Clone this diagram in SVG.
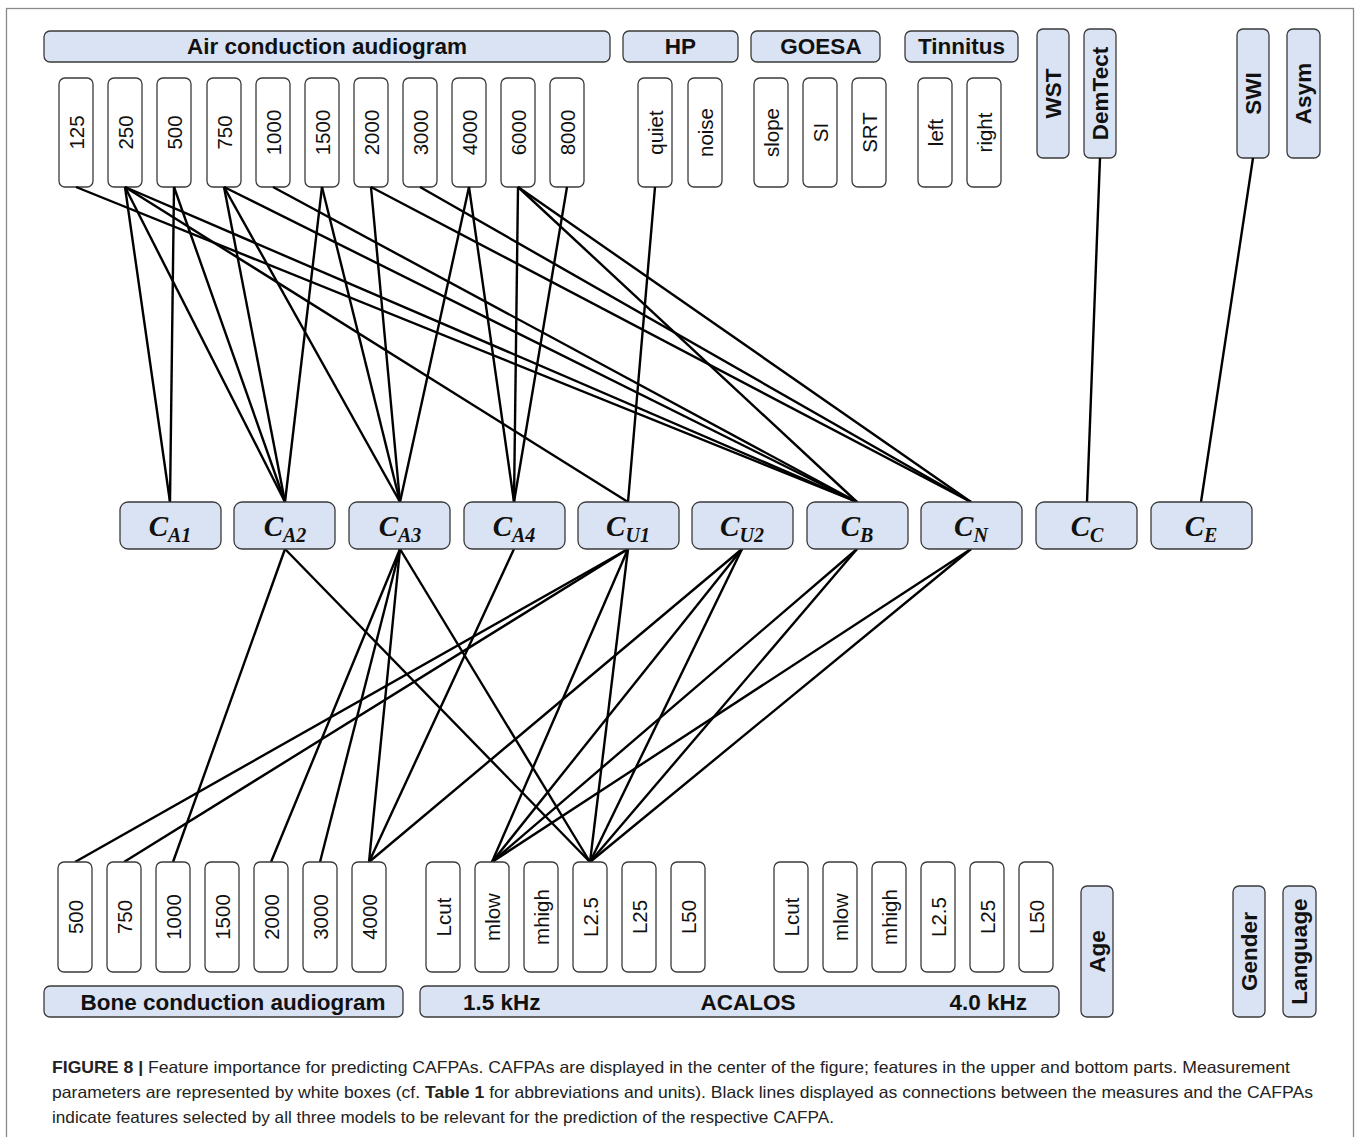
<svg xmlns="http://www.w3.org/2000/svg" width="1360" height="1137" viewBox="0 0 1360 1137">
<style>
.frame{fill:none;stroke:#8a8a8a;stroke-width:1.3}
.hdr{fill:#dae3f3;stroke:#3a3a3a;stroke-width:1.3}
.box{fill:#fff;stroke:#3a3a3a;stroke-width:1.3}
.ht{font-family:"Liberation Sans",Arial,sans-serif;font-weight:bold;font-size:22.5px;fill:#111}
.vt{font-family:"Liberation Sans",Arial,sans-serif;font-weight:bold;font-size:22.5px;fill:#111;text-anchor:middle;dominant-baseline:central}
.bt{font-family:"Liberation Sans",Arial,sans-serif;font-size:20.5px;fill:#111;text-anchor:middle;dominant-baseline:central}
.ct{font-family:"Liberation Serif","Times New Roman",serif;font-weight:bold;font-style:italic;font-size:29px;fill:#111;text-anchor:middle}
.sub{font-size:20px}
.cap{font-family:"Liberation Sans",Arial,sans-serif;font-size:16.5px;fill:#222}
#connectors line{stroke:#000;stroke-width:2.4}
</style>
<rect class="frame" x="6.5" y="8.5" width="1347" height="1140"/>

<!-- top headers -->
<g id="hdr-air"><rect class="hdr" x="44" y="31" width="566" height="31" rx="6"/><text class="ht" x="327" y="54" text-anchor="middle">Air conduction audiogram</text></g>
<g id="hdr-hp"><rect class="hdr" x="623" y="31" width="115" height="31" rx="6"/><text class="ht" x="680.5" y="54" text-anchor="middle">HP</text></g>
<g id="hdr-goesa"><rect class="hdr" x="751" y="31" width="129" height="31" rx="6"/><text class="ht" x="821" y="54" text-anchor="middle">GOESA</text></g>
<g id="hdr-tinnitus"><rect class="hdr" x="905" y="31" width="113" height="31" rx="6"/><text class="ht" x="961.5" y="54" text-anchor="middle">Tinnitus</text></g>
<g id="wst"><rect class="hdr" x="1037" y="29" width="32" height="129" rx="6"/><text class="vt" transform="translate(1053,93.5) rotate(-90)">WST</text></g>
<g id="demtect"><rect class="hdr" x="1084" y="29" width="32" height="129" rx="6"/><text class="vt" transform="translate(1100,93.5) rotate(-90)">DemTect</text></g>
<g id="swi"><rect class="hdr" x="1237" y="29" width="32" height="129" rx="6"/><text class="vt" transform="translate(1253,93.5) rotate(-90)">SWI</text></g>
<g id="asym"><rect class="hdr" x="1287" y="29" width="33" height="129" rx="6"/><text class="vt" transform="translate(1303.5,93.5) rotate(-90)">Asym</text></g>

<!-- top white boxes -->
<g id="ac125"><rect class="box" x="59" y="78" width="34" height="109" rx="6"/><text class="bt" transform="translate(76,132.5) rotate(-90)">125</text></g>
<g id="ac250"><rect class="box" x="108" y="78" width="34" height="109" rx="6"/><text class="bt" transform="translate(125,132.5) rotate(-90)">250</text></g>
<g id="ac500"><rect class="box" x="157" y="78" width="34" height="109" rx="6"/><text class="bt" transform="translate(174,132.5) rotate(-90)">500</text></g>
<g id="ac750"><rect class="box" x="207" y="78" width="34" height="109" rx="6"/><text class="bt" transform="translate(224,132.5) rotate(-90)">750</text></g>
<g id="ac1000"><rect class="box" x="256" y="78" width="34" height="109" rx="6"/><text class="bt" transform="translate(273,132.5) rotate(-90)">1000</text></g>
<g id="ac1500"><rect class="box" x="305" y="78" width="34" height="109" rx="6"/><text class="bt" transform="translate(322,132.5) rotate(-90)">1500</text></g>
<g id="ac2000"><rect class="box" x="354" y="78" width="34" height="109" rx="6"/><text class="bt" transform="translate(371,132.5) rotate(-90)">2000</text></g>
<g id="ac3000"><rect class="box" x="403" y="78" width="34" height="109" rx="6"/><text class="bt" transform="translate(420,132.5) rotate(-90)">3000</text></g>
<g id="ac4000"><rect class="box" x="452" y="78" width="34" height="109" rx="6"/><text class="bt" transform="translate(469,132.5) rotate(-90)">4000</text></g>
<g id="ac6000"><rect class="box" x="501" y="78" width="34" height="109" rx="6"/><text class="bt" transform="translate(518,132.5) rotate(-90)">6000</text></g>
<g id="ac8000"><rect class="box" x="550" y="78" width="34" height="109" rx="6"/><text class="bt" transform="translate(567,132.5) rotate(-90)">8000</text></g>
<g id="hp-quiet"><rect class="box" x="638" y="78" width="34" height="109" rx="6"/><text class="bt" transform="translate(655,132.5) rotate(-90)">quiet</text></g>
<g id="hp-noise"><rect class="box" x="688" y="78" width="34" height="109" rx="6"/><text class="bt" transform="translate(705,132.5) rotate(-90)">noise</text></g>
<g id="g-slope"><rect class="box" x="754" y="78" width="34" height="109" rx="6"/><text class="bt" transform="translate(771,132.5) rotate(-90)">slope</text></g>
<g id="g-si"><rect class="box" x="803" y="78" width="34" height="109" rx="6"/><text class="bt" transform="translate(820,132.5) rotate(-90)">SI</text></g>
<g id="g-srt"><rect class="box" x="852" y="78" width="34" height="109" rx="6"/><text class="bt" transform="translate(869,132.5) rotate(-90)">SRT</text></g>
<g id="t-left"><rect class="box" x="918" y="78" width="34" height="109" rx="6"/><text class="bt" transform="translate(935,132.5) rotate(-90)">left</text></g>
<g id="t-right"><rect class="box" x="967" y="78" width="34" height="109" rx="6"/><text class="bt" transform="translate(984,132.5) rotate(-90)">right</text></g>

<!-- connectors -->
<g id="connectors">
<line x1="76" y1="187" x2="857" y2="502"/>
<line x1="125" y1="187" x2="170" y2="502"/>
<line x1="125" y1="187" x2="285" y2="502"/>
<line x1="125" y1="187" x2="628" y2="502"/>
<line x1="125" y1="187" x2="857" y2="502"/>
<line x1="174" y1="187" x2="170" y2="502"/>
<line x1="174" y1="187" x2="285" y2="502"/>
<line x1="224" y1="187" x2="285" y2="502"/>
<line x1="224" y1="187" x2="400" y2="502"/>
<line x1="224" y1="187" x2="857" y2="502"/>
<line x1="273" y1="187" x2="857" y2="502"/>
<line x1="322" y1="187" x2="285" y2="502"/>
<line x1="322" y1="187" x2="400" y2="502"/>
<line x1="371" y1="187" x2="400" y2="502"/>
<line x1="371" y1="187" x2="971" y2="502"/>
<line x1="420" y1="187" x2="971" y2="502"/>
<line x1="469" y1="187" x2="400" y2="502"/>
<line x1="469" y1="187" x2="514" y2="502"/>
<line x1="518" y1="187" x2="514" y2="502"/>
<line x1="518" y1="187" x2="857" y2="502"/>
<line x1="518" y1="187" x2="971" y2="502"/>
<line x1="567" y1="187" x2="514" y2="502"/>
<line x1="655" y1="187" x2="628" y2="502"/>
<line x1="1100" y1="158" x2="1087" y2="502"/>
<line x1="1253" y1="158" x2="1201" y2="502"/>
<line x1="285" y1="549" x2="173" y2="862"/>
<line x1="285" y1="549" x2="590" y2="862"/>
<line x1="400" y1="549" x2="271" y2="862"/>
<line x1="400" y1="549" x2="320" y2="862"/>
<line x1="400" y1="549" x2="369" y2="862"/>
<line x1="400" y1="549" x2="590" y2="862"/>
<line x1="514" y1="549" x2="369" y2="862"/>
<line x1="628" y1="549" x2="75" y2="862"/>
<line x1="628" y1="549" x2="124" y2="862"/>
<line x1="628" y1="549" x2="492" y2="862"/>
<line x1="628" y1="549" x2="590" y2="862"/>
<line x1="742" y1="549" x2="369" y2="862"/>
<line x1="742" y1="549" x2="492" y2="862"/>
<line x1="742" y1="549" x2="590" y2="862"/>
<line x1="857" y1="549" x2="492" y2="862"/>
<line x1="857" y1="549" x2="590" y2="862"/>
<line x1="971" y1="549" x2="492" y2="862"/>
<line x1="971" y1="549" x2="590" y2="862"/>
</g>

<!-- CAFPAs -->
<g id="ca1"><rect class="hdr" x="120" y="502" width="101" height="47" rx="8"/><text class="ct" x="170" y="536">C<tspan class="sub" dy="6">A1</tspan></text></g>
<g id="ca2"><rect class="hdr" x="234" y="502" width="101" height="47" rx="8"/><text class="ct" x="285" y="536">C<tspan class="sub" dy="6">A2</tspan></text></g>
<g id="ca3"><rect class="hdr" x="349" y="502" width="101" height="47" rx="8"/><text class="ct" x="400" y="536">C<tspan class="sub" dy="6">A3</tspan></text></g>
<g id="ca4"><rect class="hdr" x="464" y="502" width="101" height="47" rx="8"/><text class="ct" x="514" y="536">C<tspan class="sub" dy="6">A4</tspan></text></g>
<g id="cu1"><rect class="hdr" x="578" y="502" width="101" height="47" rx="8"/><text class="ct" x="628" y="536">C<tspan class="sub" dy="6">U1</tspan></text></g>
<g id="cu2"><rect class="hdr" x="692" y="502" width="101" height="47" rx="8"/><text class="ct" x="742" y="536">C<tspan class="sub" dy="6">U2</tspan></text></g>
<g id="cb"><rect class="hdr" x="807" y="502" width="101" height="47" rx="8"/><text class="ct" x="857" y="536">C<tspan class="sub" dy="6">B</tspan></text></g>
<g id="cn"><rect class="hdr" x="921" y="502" width="101" height="47" rx="8"/><text class="ct" x="971" y="536">C<tspan class="sub" dy="6">N</tspan></text></g>
<g id="cc"><rect class="hdr" x="1036" y="502" width="101" height="47" rx="8"/><text class="ct" x="1087" y="536">C<tspan class="sub" dy="6">C</tspan></text></g>
<g id="ce"><rect class="hdr" x="1151" y="502" width="101" height="47" rx="8"/><text class="ct" x="1201" y="536">C<tspan class="sub" dy="6">E</tspan></text></g>

<!-- bottom white boxes -->
<g id="bc500"><rect class="box" x="58" y="862" width="34" height="110" rx="6"/><text class="bt" transform="translate(75,917) rotate(-90)">500</text></g>
<g id="bc750"><rect class="box" x="107" y="862" width="34" height="110" rx="6"/><text class="bt" transform="translate(124,917) rotate(-90)">750</text></g>
<g id="bc1000"><rect class="box" x="156" y="862" width="34" height="110" rx="6"/><text class="bt" transform="translate(173,917) rotate(-90)">1000</text></g>
<g id="bc1500"><rect class="box" x="205" y="862" width="34" height="110" rx="6"/><text class="bt" transform="translate(222,917) rotate(-90)">1500</text></g>
<g id="bc2000"><rect class="box" x="254" y="862" width="34" height="110" rx="6"/><text class="bt" transform="translate(271,917) rotate(-90)">2000</text></g>
<g id="bc3000"><rect class="box" x="303" y="862" width="34" height="110" rx="6"/><text class="bt" transform="translate(320,917) rotate(-90)">3000</text></g>
<g id="bc4000"><rect class="box" x="352" y="862" width="34" height="110" rx="6"/><text class="bt" transform="translate(369,917) rotate(-90)">4000</text></g>
<g id="a15-lcut"><rect class="box" x="426" y="862" width="34" height="110" rx="6"/><text class="bt" transform="translate(443,917) rotate(-90)">Lcut</text></g>
<g id="a15-mlow"><rect class="box" x="475" y="862" width="34" height="110" rx="6"/><text class="bt" transform="translate(492,917) rotate(-90)">mlow</text></g>
<g id="a15-mhigh"><rect class="box" x="524" y="862" width="34" height="110" rx="6"/><text class="bt" transform="translate(541,917) rotate(-90)">mhigh</text></g>
<g id="a15-l25"><rect class="box" x="573" y="862" width="34" height="110" rx="6"/><text class="bt" transform="translate(590,917) rotate(-90)">L2.5</text></g>
<g id="a15-l25b"><rect class="box" x="622" y="862" width="34" height="110" rx="6"/><text class="bt" transform="translate(639,917) rotate(-90)">L25</text></g>
<g id="a15-l50"><rect class="box" x="671" y="862" width="34" height="110" rx="6"/><text class="bt" transform="translate(688,917) rotate(-90)">L50</text></g>
<g id="a40-lcut"><rect class="box" x="774" y="862" width="34" height="110" rx="6"/><text class="bt" transform="translate(791,917) rotate(-90)">Lcut</text></g>
<g id="a40-mlow"><rect class="box" x="823" y="862" width="34" height="110" rx="6"/><text class="bt" transform="translate(840,917) rotate(-90)">mlow</text></g>
<g id="a40-mhigh"><rect class="box" x="872" y="862" width="34" height="110" rx="6"/><text class="bt" transform="translate(889,917) rotate(-90)">mhigh</text></g>
<g id="a40-l25"><rect class="box" x="921" y="862" width="34" height="110" rx="6"/><text class="bt" transform="translate(938,917) rotate(-90)">L2.5</text></g>
<g id="a40-l25b"><rect class="box" x="970" y="862" width="34" height="110" rx="6"/><text class="bt" transform="translate(987,917) rotate(-90)">L25</text></g>
<g id="a40-l50"><rect class="box" x="1019" y="862" width="34" height="110" rx="6"/><text class="bt" transform="translate(1036,917) rotate(-90)">L50</text></g>

<!-- bottom headers -->
<g id="hdr-bone"><rect class="hdr" x="44" y="986" width="359" height="31" rx="6"/><text class="ht" x="233" y="1010" text-anchor="middle">Bone conduction audiogram</text></g>
<g id="hdr-acalos"><rect class="hdr" x="420" y="986" width="639" height="31" rx="6"/><text class="ht" x="463" y="1010">1.5 kHz</text><text class="ht" x="748" y="1010" text-anchor="middle">ACALOS</text><text class="ht" x="1027" y="1010" text-anchor="end">4.0 kHz</text></g>
<g id="age"><rect class="hdr" x="1081" y="886" width="32" height="131" rx="6"/><text class="vt" transform="translate(1097,951.5) rotate(-90)">Age</text></g>
<g id="gender"><rect class="hdr" x="1233" y="886" width="32" height="131" rx="6"/><text class="vt" transform="translate(1249,951.5) rotate(-90)">Gender</text></g>
<g id="language"><rect class="hdr" x="1283" y="886" width="33" height="131" rx="6"/><text class="vt" transform="translate(1299.5,951.5) rotate(-90)">Language</text></g>

<!-- caption -->
<text class="cap" x="52" y="1073" textLength="1238" lengthAdjust="spacingAndGlyphs"><tspan font-weight="bold">FIGURE 8 |</tspan> Feature importance for predicting CAFPAs. CAFPAs are displayed in the center of the figure; features in the upper and bottom parts. Measurement</text>
<text class="cap" x="52" y="1098" textLength="1261" lengthAdjust="spacingAndGlyphs">parameters are represented by white boxes (cf. <tspan font-weight="bold">Table 1</tspan> for abbreviations and units). Black lines displayed as connections between the measures and the CAFPAs</text>
<text class="cap" x="52" y="1123" textLength="782" lengthAdjust="spacingAndGlyphs">indicate features selected by all three models to be relevant for the prediction of the respective CAFPA.</text>
</svg>
